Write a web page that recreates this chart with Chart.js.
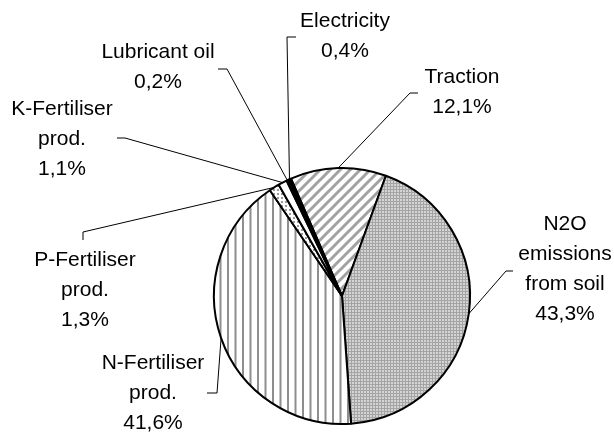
<!DOCTYPE html>
<html>
<head>
<meta charset="utf-8">
<script src="https://cdn.jsdelivr.net/npm/chart.js@4"></script>
<style>
  html, body { margin: 0; padding: 0; background: #fff; }
  #wrap { width: 614px; height: 432px; position: relative; }
</style>
</head>
<body>
<div id="wrap"><canvas id="chart"></canvas></div>
<script>
// data, clockwise from the top-left of the Traction slice
const categories = ['Traction', 'N2O\nemissions\nfrom soil', 'N-Fertiliser\nprod.', 'P-Fertiliser\nprod.', 'K-Fertiliser\nprod.', 'Lubricant oil', 'Electricity'];
const shares = [12.1, 43.3, 41.6, 1.3, 1.1, 0.2, 0.4];

// where each label sits: text centre x, first line y, leader start and elbow
const labelLayout = [
    { x: 462, y: 77, from: [418, 93], elbow: [410, 93] },
    { x: 565, y: 224, from: [513, 271], elbow: [506, 271] },
    { x: 153, y: 363, from: [207, 393], elbow: [217, 393] },
    { x: 85, y: 260, from: [83, 240], elbow: [83, 232] },
    { x: 62, y: 109, from: [117, 138], elbow: [125, 138] },
    { x: 158, y: 52, from: [218, 69], elbow: [227, 69] },
    { x: 345, y: 21, from: [296, 37], elbow: [287, 37] }
];

function makePattern(w, h, draw) {
    const c = document.createElement('canvas');
    c.width = w;
    c.height = h;
    const g = c.getContext('2d');
    g.fillStyle = '#fff';
    g.fillRect(0, 0, w, h);
    draw(g);
    return document.getElementById('chart').getContext('2d').createPattern(c, 'repeat');
}

const diagonal = makePattern(10, 10, g => {
    g.strokeStyle = '#a2a2a2';
    g.lineWidth = 3;
    g.beginPath();
    g.moveTo(-5, 15); g.lineTo(15, -5);
    g.moveTo(-15, 15); g.lineTo(5, -5);
    g.moveTo(5, 15); g.lineTo(25, -5);
    g.stroke();
});
const checker = makePattern(3, 3, g => {
    g.fillStyle = '#a4a4a4';
    g.fillRect(0, 0, 3, 3);
    g.fillStyle = '#d4d4d4';
    g.fillRect(1, 1, 2, 2);
});
const vertical = makePattern(15, 4, g => {
    g.fillStyle = '#8e8e8e';
    g.fillRect(2, 0, 2, 4);
    g.fillRect(9.5, 0, 2, 4);
});
const dotted = makePattern(4, 4, g => {
    g.fillStyle = '#9a9a9a';
    g.fillRect(1, 1, 2, 2);
});

const fills = [diagonal, checker, vertical, dotted, '#ffffff', '#ffffff', '#000000'];

const labelPlugin = {
    id: 'labels',
    afterDraw(chart) {
        const ctx = chart.ctx;
        const meta = chart.getDatasetMeta(0);
        ctx.save();
        ctx.font = '21px "Liberation Sans", Arial, sans-serif';
        ctx.fillStyle = '#000';
        ctx.textAlign = 'center';
        ctx.textBaseline = 'middle';
        meta.data.forEach((arc, i) => {
            const p = arc.getProps(['x', 'y', 'startAngle', 'endAngle', 'outerRadius'], true);
            const mid = (p.startAngle + p.endAngle) / 2;
            const ex = p.x + Math.cos(mid) * p.outerRadius;
            const ey = p.y + Math.sin(mid) * p.outerRadius;
            const lay = labelLayout[i];
            ctx.strokeStyle = '#000';
            ctx.lineWidth = 1;
            ctx.beginPath();
            ctx.moveTo(lay.from[0], lay.from[1]);
            ctx.lineTo(lay.elbow[0], lay.elbow[1]);
            ctx.lineTo(ex, ey);
            ctx.stroke();
            const lines = categories[i].split('\n');
            lines.push(shares[i].toFixed(1).replace('.', ',') + '%');
            lines.forEach((t, j) => ctx.fillText(t, lay.x, lay.y + j * 30));
        });
        ctx.restore();
    }
};

new Chart(document.getElementById('chart'), {
    type: 'pie',
    data: {
        labels: categories,
        datasets: [{
            data: shares,
            backgroundColor: fills,
            borderColor: '#000',
            borderWidth: 2,
            hoverOffset: 0,
            offset: 0
        }]
    },
    options: {
        responsive: true,
        maintainAspectRatio: false,
        animation: false,
        rotation: -23.5,
        layout: { padding: { left: 213, right: 143, top: 167, bottom: 7 } },
        plugins: {
            legend: { display: false },
            tooltip: { enabled: false }
        }
    },
    plugins: [labelPlugin]
});
</script>
</body>
</html>
